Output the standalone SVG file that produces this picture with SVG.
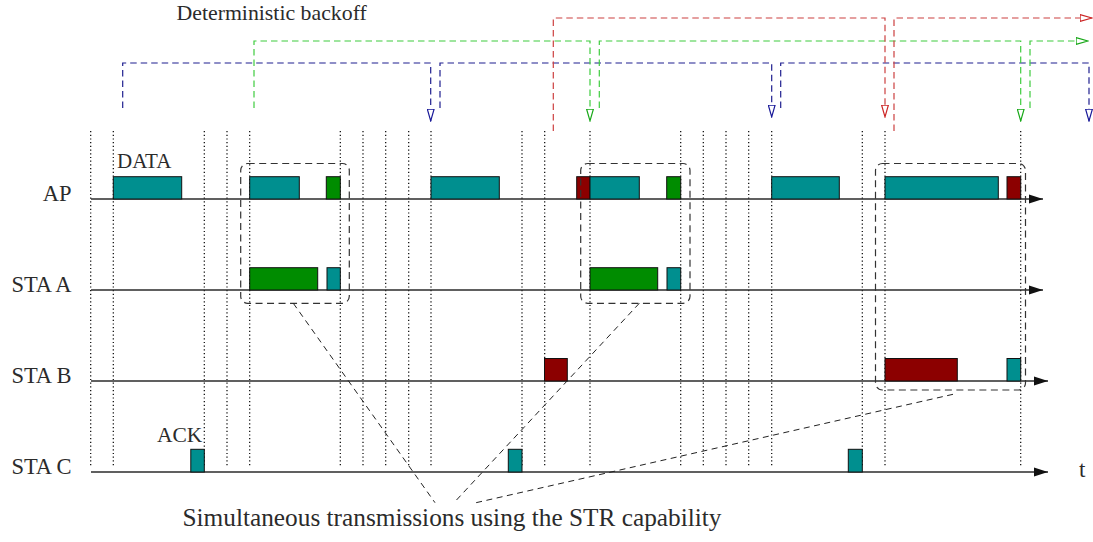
<svg xmlns="http://www.w3.org/2000/svg" width="1093" height="542" viewBox="0 0 1093 542">
<style>
  .lbl { font-family: "Liberation Serif", "DejaVu Serif", serif; font-size: 22.5px; fill: #2b2b2b; }
  .cap { font-family: "Liberation Serif", "DejaVu Serif", serif; font-size: 25.3px; fill: #2b2b2b; }
  .dot { stroke: #000; stroke-width: 1.2; stroke-dasharray: 1.2 2.5; fill: none; }
  .axis { stroke: #2b2b2b; stroke-width: 1.3; fill: none; }
  .teal { fill: #008f8f; stroke: #111; stroke-width: 1; }
  .green { fill: #008c00; stroke: #111; stroke-width: 1; }
  .red { fill: #8c0000; stroke: #111; stroke-width: 1; }
  .box { fill: none; stroke: #333; stroke-width: 1.2; stroke-dasharray: 7 4.5; }
  .conn { fill: none; stroke: #222; stroke-width: 1; stroke-dasharray: 6 4.5; }
  .bo { fill: none; stroke-width: 1.2; stroke-dasharray: 6.5 4; }
  .blue { stroke: #1f1f8f; }
  .lgreen { stroke: #3fcc3f; }
  .lred { stroke: #cc4040; }
</style>
<defs>
  <marker id="axarrow" markerUnits="userSpaceOnUse" viewBox="0 0 14 10" markerWidth="14" markerHeight="10" refX="14" refY="5" orient="auto">
    <path d="M0,0.5 L14,5 L0,9.5 Z" fill="#111"/>
  </marker>
  <marker id="ahblue" markerUnits="userSpaceOnUse" viewBox="0 0 13 8" markerWidth="13" markerHeight="8" refX="12.5" refY="4" orient="auto">
    <path d="M0.6,0.6 L12.4,4 L0.6,7.4 Z" fill="#fff" stroke="#1a1a99" stroke-width="1.2"/>
  </marker>
  <marker id="ahgreen" markerUnits="userSpaceOnUse" viewBox="0 0 13 8" markerWidth="13" markerHeight="8" refX="12.5" refY="4" orient="auto">
    <path d="M0.6,0.6 L12.4,4 L0.6,7.4 Z" fill="#fff" stroke="#18a818" stroke-width="1.2"/>
  </marker>
  <marker id="ahred" markerUnits="userSpaceOnUse" viewBox="0 0 13 8" markerWidth="13" markerHeight="8" refX="12.5" refY="4" orient="auto">
    <path d="M0.6,0.6 L12.4,4 L0.6,7.4 Z" fill="#fff" stroke="#cc2626" stroke-width="1.2"/>
  </marker>
</defs>

<g id="gridlines">
  <path class="dot" d="M90.7,131 V467 M113.3,131 V467 M204.3,131 V467 M227,131 V467 M249.7,131 V467 M340.3,131 V467 M363,131 V467 M385.7,131 V467 M408.7,131 V467 M431,131 V467 M522,131 V467 M544.7,131 V467 M590,131 V467 M680.7,131 V467 M703.3,131 V467 M726,131 V467 M748.7,131 V467 M771.7,131 V467 M862.3,131 V467 M885,131 V467 M1020.7,131 V467"/>
</g>

<g id="axes">
  <path class="axis" d="M91,199 H1043" marker-end="url(#axarrow)"/>
  <path class="axis" d="M91,290 H1043" marker-end="url(#axarrow)"/>
  <path class="axis" d="M91,381 H1048" marker-end="url(#axarrow)"/>
  <path class="axis" d="M91,472 H1048" marker-end="url(#axarrow)"/>
</g>

<g id="node-ap">
  <text class="lbl" x="71.5" y="200.5" text-anchor="end">AP</text>
  <rect class="teal" x="113.3" y="176.7" width="68.4" height="22.3"/>
  <rect class="teal" x="249.7" y="176.7" width="49.6" height="22.3"/>
  <rect class="green" x="326.3" y="176.7" width="14" height="22.3"/>
  <rect class="teal" x="431" y="176.7" width="68.3" height="22.3"/>
  <rect class="red" x="576.7" y="176.7" width="13.3" height="22.3"/>
  <rect class="teal" x="590" y="176.7" width="49.3" height="22.3"/>
  <rect class="green" x="666.7" y="176.7" width="14" height="22.3"/>
  <rect class="teal" x="771.7" y="176.7" width="67.6" height="22.3"/>
  <rect class="teal" x="885" y="176.7" width="113.3" height="22.3"/>
  <rect class="red" x="1007" y="176.7" width="13.7" height="22.3"/>
  <text class="lbl" x="117" y="168.3" style="font-size:21px">DATA</text>
</g>

<g id="node-sta-a">
  <text class="lbl" x="71.5" y="291.5" text-anchor="end">STA A</text>
  <rect class="green" x="249.7" y="267.7" width="68" height="22.3"/>
  <rect class="teal" x="327" y="267.7" width="13.3" height="22.3"/>
  <rect class="green" x="590" y="267.7" width="67.7" height="22.3"/>
  <rect class="teal" x="667" y="267.7" width="13.7" height="22.3"/>
</g>

<g id="node-sta-b">
  <text class="lbl" x="71.5" y="382.5" text-anchor="end">STA B</text>
  <rect class="red" x="544.5" y="358.5" width="22.8" height="22.5"/>
  <rect class="red" x="885" y="358.5" width="72.3" height="22.5"/>
  <rect class="teal" x="1007" y="358.5" width="13.7" height="22.5"/>
</g>

<g id="node-sta-c">
  <text class="lbl" x="71.5" y="473.5" text-anchor="end">STA C</text>
  <rect class="teal" x="190.8" y="449.3" width="13.5" height="22.7"/>
  <rect class="teal" x="508.3" y="449.3" width="13.7" height="22.7"/>
  <rect class="teal" x="848.3" y="449.3" width="14" height="22.7"/>
  <text class="lbl" x="157" y="441.7" style="font-size:21.5px">ACK</text>
</g>

<g id="node-str-boxes">
  <rect class="box" x="240.7" y="163.5" width="108.6" height="139.8" rx="7" ry="7"/>
  <rect class="box" x="580.7" y="163.5" width="109.3" height="139.8" rx="7" ry="7"/>
  <rect class="box" x="875.5" y="163.5" width="150" height="226.5" rx="7" ry="7"/>
</g>

<g id="connectors">
  <path class="bo blue" d="M122.7,108 V63 H430.7 V121" marker-end="url(#ahblue)"/>
  <path class="bo blue" d="M440,108 V63 H771.7 V117" marker-end="url(#ahblue)"/>
  <path class="bo blue" d="M780.7,108 V63 H1089 V121" marker-end="url(#ahblue)"/>
  <path class="bo lgreen" d="M254,108 V41 H590 V121" marker-end="url(#ahgreen)"/>
  <path class="bo lgreen" d="M599.3,108 V41 H1020.7 V121" marker-end="url(#ahgreen)"/>
  <path class="bo lgreen" d="M1030,108 V41 H1088" marker-end="url(#ahgreen)"/>
  <path class="bo lred" d="M553.3,131 V18 H885 V117" marker-end="url(#ahred)"/>
  <path class="bo lred" d="M894,131 V18 H1092" marker-end="url(#ahred)"/>
  <path class="conn" d="M293.3,303.3 L435,502.7"/>
  <path class="conn" d="M639.3,303.3 L454,502.7"/>
  <path class="conn" d="M953,394.3 L476,502.7"/>
</g>

<g id="labels">
  <text class="lbl" x="176.5" y="20" style="font-size:21.8px">Deterministic backoff</text>
  <text class="lbl" x="1079" y="476.5" style="font-size:23px">t</text>
  <text class="cap" x="182.5" y="526">Simultaneous transmissions using the STR capability</text>
</g>
</svg>
